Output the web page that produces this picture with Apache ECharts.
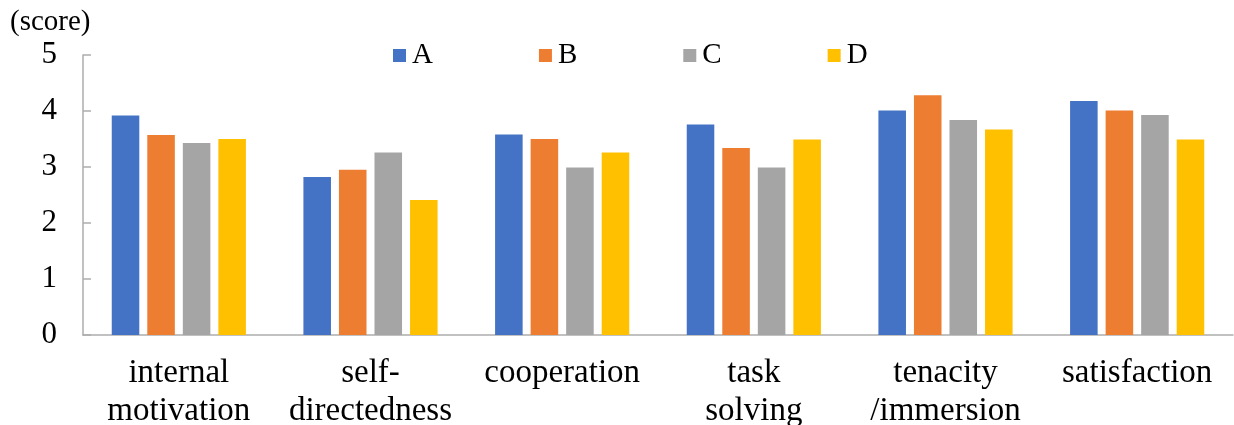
<!DOCTYPE html>
<html>
<head>
<meta charset="utf-8">
<script src="https://cdn.jsdelivr.net/npm/echarts@6/dist/echarts.min.js"></script>
<style>
  html, body { margin: 0; padding: 0; background: #fff; }
  #chart { width: 1234px; height: 425px; }
</style>
</head>
<body>
<div id="chart"></div>
<script>
// Survey items (x-axis categories)
const categories = [
  'internal\nmotivation',
  'self-\ndirectedness',
  'cooperation',
  'task\nsolving',
  'tenacity\n/immersion',
  'satisfaction'
];

// Mean score per group
const groupNames = ['A', 'B', 'C', 'D'];
const valuesA = [3.92, 2.82, 3.58, 3.76, 4.01, 4.18];
const valuesB = [3.57, 2.95, 3.50, 3.34, 4.28, 4.01];
const valuesC = [3.43, 3.26, 2.99, 2.99, 3.84, 3.93];
const valuesD = [3.50, 2.41, 3.26, 3.49, 3.67, 3.49];

const yTicks = [0, 1, 2, 3, 4, 5];

const colors = ['#4472C4', '#ED7D31', '#A5A5A5', '#FFC000'];
const serif = "'Liberation Serif', 'Times New Roman', serif";
const axisGray = '#ADADAD';

const seriesValues = [valuesA, valuesB, valuesC, valuesD];

const chart = echarts.init(document.getElementById('chart'), null, { renderer: 'canvas' });

chart.setOption({
  animation: false,
  backgroundColor: '#ffffff',
  color: colors,
  title: {
    text: '(score)',
    left: 5,
    top: 3,
    textStyle: { fontFamily: serif, fontSize: 29, fontWeight: 'normal', color: '#000' }
  },
  legend: {
    data: groupNames,
    left: 388,
    top: 36,
    itemWidth: 13,
    itemHeight: 13,
    itemGap: 106,
    icon: 'rect',
    textStyle: { fontFamily: serif, fontSize: 29, color: '#000', padding: [0, 0, 0, 1] }
  },
  // fixed plot rectangle; the category labels may run past the bottom edge
  grid: { left: 83, right: 1, top: 55, bottom: 90, containLabel: false, outerBoundsMode: 'none' },
  xAxis: {
    type: 'category',
    data: categories,
    axisTick: { show: false },
    axisLine: { lineStyle: { color: axisGray, width: 1.5 } },
    axisLabel: {
      interval: 0,
      margin: 19,
      fontFamily: serif,
      fontSize: 33,
      lineHeight: 38,
      color: '#000'
    }
  },
  yAxis: {
    type: 'value',
    min: yTicks[0],
    max: yTicks[yTicks.length - 1],
    interval: 1,
    splitLine: { show: false },
    axisLine: { show: true, lineStyle: { color: axisGray, width: 1.5 } },
    axisTick: { show: true, inside: true, length: 8, lineStyle: { color: axisGray, width: 1.5 } },
    axisLabel: {
      margin: 26,
      fontFamily: serif,
      fontSize: 31,
      color: '#000'
    }
  },
  series: groupNames.map((name, i) => ({
    name: name,
    type: 'bar',
    data: seriesValues[i],
    barGap: '29%',
    barCategoryGap: '30%',
    itemStyle: { color: colors[i] }
  }))
});
</script>
</body>
</html>
